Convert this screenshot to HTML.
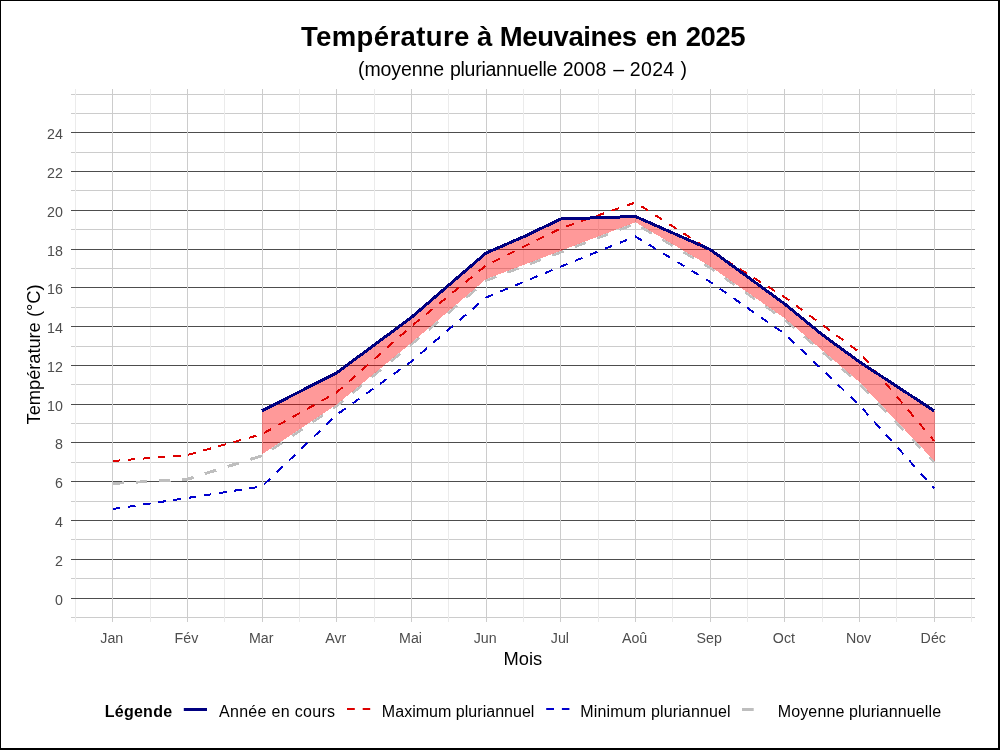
<!DOCTYPE html>
<html lang="fr">
<head>
<meta charset="utf-8">
<title>Température à Meuvaines en 2025</title>
<style>
html, body { margin: 0; padding: 0; background: #ffffff; }
body { width: 1000px; height: 750px; overflow: hidden; font-family: "Liberation Sans", sans-serif; }
svg { display: block; will-change: transform; }
svg text { font-family: "Liberation Sans", sans-serif; }
.tick text { fill: #4d4d4d; }
</style>
</head>
<body>
<svg width="1000" height="750" viewBox="0 0 1000 750">
<defs>
<clipPath id="leftOfMar"><rect x="0" y="0" width="262.04" height="750"/></clipPath>
<clipPath id="belowRibbon"><path d="M262.04,454.49 L336.72,404.58 L411.40,342.84 L486.08,279.15 L560.76,250.80 L635.44,222.26 L710.12,266.33 L784.80,318.37 L859.48,382.06 L934.16,460.70 L935.06,460.70 L935.06,0.00 L1000.00,0.00 L1000.00,750.00 L262.04,750.00 Z"/></clipPath>
</defs>
<!-- background + outer border -->
<rect x="0" y="0" width="1000" height="750" fill="#ffffff"/>
<rect x="0" y="0" width="1000" height="1" fill="#000000"/>
<rect x="0" y="0" width="1" height="750" fill="#000000"/>
<rect x="998" y="0" width="2" height="750" fill="#000000"/>
<rect x="0" y="748" width="1000" height="2" fill="#000000"/>

<!-- titles, axis titles, legend labels -->
<text x="300.98" y="45.7" font-size="27.5" font-weight="bold" letter-spacing="0.375" fill="#000000">Température</text>
<text x="476.93" y="45.7" font-size="27.5" font-weight="bold" letter-spacing="0.000" fill="#000000">à</text>
<text x="499.78" y="45.7" font-size="27.5" font-weight="bold" letter-spacing="-0.403" fill="#000000">Meuvaines</text>
<text x="645.63" y="45.7" font-size="27.5" font-weight="bold" letter-spacing="-0.109" fill="#000000">en</text>
<text x="685.66" y="45.7" font-size="27.5" font-weight="bold" letter-spacing="-0.418" fill="#000000">2025</text>
<text x="357.98" y="76.2" font-size="19.5" letter-spacing="-0.072" fill="#000000">(moyenne</text>
<text x="449.92" y="76.2" font-size="19.5" letter-spacing="-0.254" fill="#000000">pluriannuelle</text>
<text x="562.63" y="76.2" font-size="19.5" letter-spacing="0.084" fill="#000000">2008</text>
<text x="613.19" y="76.2" font-size="19.5" letter-spacing="0.000" fill="#000000">–</text>
<text x="629.74" y="76.2" font-size="19.5" letter-spacing="0.361" fill="#000000">2024</text>
<text x="680.55" y="76.2" font-size="19.5" letter-spacing="0.000" fill="#000000">)</text>
<text x="503.49" y="664.8" font-size="18.33" letter-spacing="0.016" fill="#000000">Mois</text>
<text x="104.69" y="717" font-size="16" font-weight="bold" letter-spacing="0.265" fill="#000000">Légende</text>
<text x="218.96" y="717" font-size="16" letter-spacing="0.310" fill="#000000">Année en cours</text>
<text x="381.86" y="717" font-size="16" letter-spacing="0.027" fill="#000000">Maximum pluriannuel</text>
<text x="580.36" y="717" font-size="16" letter-spacing="0.149" fill="#000000">Minimum pluriannuel</text>
<text x="777.80" y="717" font-size="16" letter-spacing="0.114" fill="#000000">Moyenne pluriannuelle</text>
<g transform="translate(40.0,424.4) rotate(-90)">
<text x="0.00" y="0" font-size="18.33" letter-spacing="-0.070" fill="#000000">Température</text>
<text x="107.40" y="0" font-size="18.33" letter-spacing="-0.090" fill="#000000">(°C)</text>
</g>

<!-- grid -->
<g shape-rendering="crispEdges">
<rect x="71" y="617" width="904" height="1" fill="#cccccc"/>
<rect x="71" y="578" width="904" height="1" fill="#cccccc"/>
<rect x="71" y="539" width="904" height="1" fill="#cccccc"/>
<rect x="71" y="501" width="904" height="1" fill="#cccccc"/>
<rect x="71" y="462" width="904" height="1" fill="#cccccc"/>
<rect x="71" y="423" width="904" height="1" fill="#cccccc"/>
<rect x="71" y="384" width="904" height="1" fill="#cccccc"/>
<rect x="71" y="346" width="904" height="1" fill="#cccccc"/>
<rect x="71" y="307" width="904" height="1" fill="#cccccc"/>
<rect x="71" y="268" width="904" height="1" fill="#cccccc"/>
<rect x="71" y="229" width="904" height="1" fill="#cccccc"/>
<rect x="71" y="190" width="904" height="1" fill="#cccccc"/>
<rect x="71" y="152" width="904" height="1" fill="#cccccc"/>
<rect x="71" y="113" width="904" height="1" fill="#cccccc"/>
<rect x="71" y="94" width="904" height="1" fill="#cccccc"/>
<rect x="75" y="89" width="1" height="533" fill="#ebebeb"/>
<rect x="150" y="89" width="1" height="533" fill="#ebebeb"/>
<rect x="224" y="89" width="1" height="533" fill="#ebebeb"/>
<rect x="299" y="89" width="1" height="533" fill="#ebebeb"/>
<rect x="374" y="89" width="1" height="533" fill="#ebebeb"/>
<rect x="448" y="89" width="1" height="533" fill="#ebebeb"/>
<rect x="523" y="89" width="1" height="533" fill="#ebebeb"/>
<rect x="598" y="89" width="1" height="533" fill="#ebebeb"/>
<rect x="672" y="89" width="1" height="533" fill="#ebebeb"/>
<rect x="747" y="89" width="1" height="533" fill="#ebebeb"/>
<rect x="822" y="89" width="1" height="533" fill="#ebebeb"/>
<rect x="896" y="89" width="1" height="533" fill="#ebebeb"/>
<rect x="971" y="89" width="1" height="533" fill="#ebebeb"/>
<rect x="71" y="598" width="904" height="1" fill="#4d4d4d"/>
<rect x="71" y="559" width="904" height="1" fill="#4d4d4d"/>
<rect x="71" y="520" width="904" height="1" fill="#4d4d4d"/>
<rect x="71" y="481" width="904" height="1" fill="#4d4d4d"/>
<rect x="71" y="442" width="904" height="1" fill="#4d4d4d"/>
<rect x="71" y="404" width="904" height="1" fill="#4d4d4d"/>
<rect x="71" y="365" width="904" height="1" fill="#4d4d4d"/>
<rect x="71" y="326" width="904" height="1" fill="#4d4d4d"/>
<rect x="71" y="287" width="904" height="1" fill="#4d4d4d"/>
<rect x="71" y="249" width="904" height="1" fill="#4d4d4d"/>
<rect x="71" y="210" width="904" height="1" fill="#4d4d4d"/>
<rect x="71" y="171" width="904" height="1" fill="#4d4d4d"/>
<rect x="71" y="132" width="904" height="1" fill="#4d4d4d"/>
<rect x="112" y="89" width="1" height="533" fill="#cccccc"/>
<rect x="187" y="89" width="1" height="533" fill="#cccccc"/>
<rect x="262" y="89" width="1" height="533" fill="#cccccc"/>
<rect x="336" y="89" width="1" height="533" fill="#cccccc"/>
<rect x="411" y="89" width="1" height="533" fill="#cccccc"/>
<rect x="486" y="89" width="1" height="533" fill="#cccccc"/>
<rect x="560" y="89" width="1" height="533" fill="#cccccc"/>
<rect x="635" y="89" width="1" height="533" fill="#cccccc"/>
<rect x="710" y="89" width="1" height="533" fill="#cccccc"/>
<rect x="784" y="89" width="1" height="533" fill="#cccccc"/>
<rect x="859" y="89" width="1" height="533" fill="#cccccc"/>
<rect x="934" y="89" width="1" height="533" fill="#cccccc"/>
</g>

<!-- data -->
<g fill="none" stroke-linejoin="round" shape-rendering="crispEdges">
<path d="M112.68,483.49 L124.24,482.84 M135.80,482.19 L147.36,481.54 M158.92,480.89 L170.48,480.24 M182.03,479.60 L187.36,479.30 L193.49,477.36 M204.85,473.77 L216.21,470.17 M227.57,466.58 L238.93,462.99 M250.30,459.40 L261.66,455.81 M271.90,449.10 L282.10,442.28 M292.29,435.47 L302.49,428.65 M312.69,421.84 L322.89,415.02 M333.09,408.21 L336.72,405.78 L342.87,400.70 M352.41,392.81 L361.95,384.92 M371.49,377.04 L381.03,369.15 M390.57,361.26 L400.11,353.37 M409.65,345.48 L411.40,344.04 L419.10,337.47 M428.53,329.43 L437.97,321.38 M447.40,313.34 L456.83,305.30 M466.26,297.25 L475.69,289.21 M485.12,281.17 L486.08,280.35 L496.15,276.53 M507.36,272.27 L518.57,268.02 M529.78,263.76 L540.99,259.51 M552.20,255.25 L560.76,252.00 L563.41,250.99 M574.61,246.71 L585.81,242.43 M597.01,238.14 L608.22,233.86 M619.42,229.58 L630.62,225.30 M641.43,226.99 L651.93,233.19 M662.44,239.39 L672.95,245.60 M683.46,251.80 L693.97,258.00 M704.47,264.20 L710.12,267.53 L714.78,270.78 M724.87,277.81 L734.95,284.84 M745.03,291.86 L755.11,298.89 M765.20,305.91 L775.28,312.94 M785.33,320.02 L794.76,328.06 M804.19,336.11 L813.62,344.15 M823.05,352.19 L832.48,360.24 M841.92,368.28 L851.35,376.32 M860.67,384.51 L869.27,393.57 M877.88,402.64 L886.49,411.70 M895.10,420.77 L903.71,429.83 M912.31,438.89 L920.92,447.96 M929.53,457.02 L934.16,461.90" stroke="#bebebe" stroke-width="2.9" clip-path="url(#leftOfMar)"/>
<path d="M112.68,483.49 L124.24,482.84 M135.80,482.19 L147.36,481.54 M158.92,480.89 L170.48,480.24 M182.03,479.60 L187.36,479.30 L193.49,477.36 M204.85,473.77 L216.21,470.17 M227.57,466.58 L238.93,462.99 M250.30,459.40 L261.66,455.81 M271.90,449.10 L282.10,442.28 M292.29,435.47 L302.49,428.65 M312.69,421.84 L322.89,415.02 M333.09,408.21 L336.72,405.78 L342.87,400.70 M352.41,392.81 L361.95,384.92 M371.49,377.04 L381.03,369.15 M390.57,361.26 L400.11,353.37 M409.65,345.48 L411.40,344.04 L419.10,337.47 M428.53,329.43 L437.97,321.38 M447.40,313.34 L456.83,305.30 M466.26,297.25 L475.69,289.21 M485.12,281.17 L486.08,280.35 L496.15,276.53 M507.36,272.27 L518.57,268.02 M529.78,263.76 L540.99,259.51 M552.20,255.25 L560.76,252.00 L563.41,250.99 M574.61,246.71 L585.81,242.43 M597.01,238.14 L608.22,233.86 M619.42,229.58 L630.62,225.30 M641.43,226.99 L651.93,233.19 M662.44,239.39 L672.95,245.60 M683.46,251.80 L693.97,258.00 M704.47,264.20 L710.12,267.53 L714.78,270.78 M724.87,277.81 L734.95,284.84 M745.03,291.86 L755.11,298.89 M765.20,305.91 L775.28,312.94 M785.33,320.02 L794.76,328.06 M804.19,336.11 L813.62,344.15 M823.05,352.19 L832.48,360.24 M841.92,368.28 L851.35,376.32 M860.67,384.51 L869.27,393.57 M877.88,402.64 L886.49,411.70 M895.10,420.77 L903.71,429.83 M912.31,438.89 L920.92,447.96 M929.53,457.02 L934.16,461.90" stroke="#bebebe" stroke-width="3.1" clip-path="url(#belowRibbon)"/>
<path d="M262.04,410.83 L336.72,372.77 L411.40,317.44 L486.08,252.97 L523.42,236.86 L560.76,218.99 L635.44,216.47 L710.12,249.48 L784.80,304.04 L822.14,334.62 L859.48,361.90 L934.16,410.83 L935.06,410.83 L935.06,460.70 L934.16,460.70 L859.48,382.06 L784.80,318.37 L710.12,266.33 L635.44,222.26 L560.76,250.80 L486.08,279.15 L411.40,342.84 L336.72,404.58 L262.04,454.49 Z" fill="#ff0000" fill-opacity="0.4" stroke="none"/>
<path d="M112.68,461.01 L120.22,460.40 M127.75,459.79 L135.29,459.19 M142.83,458.58 L150.37,457.98 M157.90,457.37 L165.44,456.77 M172.98,456.16 L180.52,455.56 M188.06,454.81 L195.65,452.69 M203.25,450.56 L210.84,448.44 M218.43,446.32 L226.03,444.20 M233.62,442.08 L241.22,439.95 M248.81,437.83 L256.40,435.71 M263.90,433.09 L271.11,429.06 M278.31,425.03 L285.52,421.01 M292.73,416.98 L299.94,412.95 M307.15,408.92 L314.36,404.89 M321.56,400.86 L328.77,396.83 M335.98,392.80 L336.72,392.39 L342.47,387.29 M348.87,381.61 L355.27,375.93 M361.68,370.26 L368.08,364.58 M374.49,358.90 L380.89,353.23 M387.29,347.55 L393.70,341.87 M400.10,336.19 L406.50,330.52 M412.95,324.91 L419.55,319.54 M426.14,314.18 L432.74,308.81 M439.33,303.44 L445.93,298.08 M452.52,292.71 L459.12,287.34 M465.71,281.97 L472.31,276.61 M478.90,271.24 L485.50,265.87 M492.76,262.08 L500.09,258.44 M507.42,254.80 L514.75,251.16 M522.08,247.52 L529.41,243.88 M536.74,240.24 L544.08,236.60 M551.41,232.96 L558.74,229.32 M566.22,226.42 L573.77,223.81 M581.31,221.21 L588.86,218.60 M596.40,215.99 L603.95,213.38 M611.49,210.77 L619.04,208.16 M626.58,205.55 L634.12,202.94 M641.24,206.21 L648.26,210.72 M655.29,215.23 L662.31,219.74 M669.34,224.26 L676.36,228.77 M683.38,233.28 L690.41,237.79 M697.43,242.30 L704.46,246.81 M711.49,251.30 L718.55,255.73 M725.61,260.15 L732.67,264.58 M739.73,269.00 L746.79,273.42 M753.85,277.85 L760.91,282.27 M767.97,286.70 L775.03,291.12 M782.09,295.54 L784.80,297.24 L788.99,300.32 M795.78,305.32 L802.58,310.32 M809.37,315.32 L816.17,320.32 M822.97,325.32 L829.76,330.33 M836.56,335.33 L843.35,340.33 M850.15,345.33 L856.94,350.33 M863.00,356.38 L868.63,363.06 M874.25,369.74 L879.87,376.42 M885.49,383.10 L891.12,389.78 M896.74,396.46 L902.36,403.14 M907.98,409.82 L913.61,416.50 M919.23,423.19 L924.85,429.87 M930.47,436.55 L934.16,440.93" stroke="#dd0000" stroke-width="2"/>
<path d="M112.68,509.00 L120.27,507.88 M127.86,506.77 L135.46,505.65 M143.05,504.53 L150.64,503.41 M158.23,502.29 L165.82,501.17 M173.42,500.05 L181.01,498.93 M188.60,497.80 L196.20,496.62 M203.79,495.44 L211.39,494.25 M218.99,493.07 L226.58,491.89 M234.18,490.70 L241.77,489.52 M249.37,488.34 L256.97,487.15 M264.10,484.38 L270.31,478.43 M276.53,472.47 L282.74,466.51 M288.95,460.55 L295.16,454.59 M301.37,448.63 L307.58,442.67 M313.79,436.71 L320.00,430.75 M326.21,424.80 L332.42,418.84 M338.83,413.21 L345.69,408.33 M352.54,403.44 L359.40,398.56 M366.25,393.68 L373.11,388.79 M379.96,383.91 L386.81,379.03 M393.67,374.14 L400.52,369.26 M407.38,364.38 L411.40,361.51 L414.08,359.22 M420.56,353.66 L427.03,348.10 M433.51,342.54 L439.99,336.98 M446.47,331.42 L452.95,325.86 M459.43,320.30 L465.91,314.74 M472.39,309.18 L478.87,303.63 M485.35,298.07 L486.08,297.44 L492.70,294.70 M500.16,291.61 L507.63,288.53 M515.09,285.44 L522.56,282.36 M530.02,279.27 L537.49,276.18 M544.95,273.10 L552.42,270.01 M559.88,266.93 L560.76,266.56 L567.36,263.90 M574.84,260.89 L582.32,257.88 M589.80,254.86 L597.27,251.85 M604.75,248.83 L612.23,245.82 M619.71,242.81 L627.19,239.79 M634.67,236.78 L635.44,236.47 L641.81,240.34 M648.91,244.66 L656.01,248.98 M663.11,253.30 L670.21,257.62 M677.32,261.95 L684.42,266.27 M691.52,270.59 L698.62,274.91 M705.72,279.23 L710.12,281.90 L712.74,283.73 M719.64,288.53 L726.53,293.34 M733.42,298.14 L740.32,302.94 M747.21,307.75 L754.10,312.55 M761.00,317.35 L767.89,322.16 M774.78,326.96 L781.67,331.76 M788.20,337.19 L794.43,343.13 M800.65,349.07 L806.88,355.01 M813.10,360.95 L819.33,366.89 M825.55,372.83 L831.78,378.76 M838.00,384.70 L844.22,390.64 M850.45,396.58 L856.67,402.52 M862.67,408.75 L868.48,415.22 M874.30,421.69 L880.11,428.16 M885.92,434.62 L891.73,441.09 M897.54,447.56 L903.36,454.03 M909.17,460.49 L914.98,466.96 M920.79,473.43 L926.60,479.90 M932.42,486.36 L934.16,488.31" stroke="#0000cd" stroke-width="2"/>
<path d="M262.04,410.83 L336.72,372.77 L411.40,317.44 L486.08,252.97 L523.42,236.86 L560.76,218.99 L635.44,216.47 L710.12,249.48 L784.80,304.04 L822.14,334.62 L859.48,361.90 L934.16,410.83" stroke="#000080" stroke-width="3"/>
</g>

<!-- tick labels -->
<g class="tick">
<text transform="translate(111.78,642.8) scale(0.97,1)" font-size="14.67" text-anchor="middle">Jan</text>
<text transform="translate(186.46,642.8) scale(0.97,1)" font-size="14.67" text-anchor="middle">Fév</text>
<text transform="translate(261.14,642.8) scale(0.97,1)" font-size="14.67" text-anchor="middle">Mar</text>
<text transform="translate(335.82,642.8) scale(0.97,1)" font-size="14.67" text-anchor="middle">Avr</text>
<text transform="translate(410.50,642.8) scale(0.97,1)" font-size="14.67" text-anchor="middle">Mai</text>
<text transform="translate(485.18,642.8) scale(0.97,1)" font-size="14.67" text-anchor="middle">Jun</text>
<text transform="translate(559.86,642.8) scale(0.97,1)" font-size="14.67" text-anchor="middle">Jul</text>
<text transform="translate(634.54,642.8) scale(0.97,1)" font-size="14.67" text-anchor="middle">Aoû</text>
<text transform="translate(709.22,642.8) scale(0.97,1)" font-size="14.67" text-anchor="middle">Sep</text>
<text transform="translate(783.90,642.8) scale(0.97,1)" font-size="14.67" text-anchor="middle">Oct</text>
<text transform="translate(858.58,642.8) scale(0.97,1)" font-size="14.67" text-anchor="middle">Nov</text>
<text transform="translate(933.26,642.8) scale(0.97,1)" font-size="14.67" text-anchor="middle">Déc</text>
<text transform="translate(62.9,604.80) scale(0.95,1)" font-size="15" text-anchor="end">0</text>
<text transform="translate(62.9,565.80) scale(0.95,1)" font-size="15" text-anchor="end">2</text>
<text transform="translate(62.9,526.80) scale(0.95,1)" font-size="15" text-anchor="end">4</text>
<text transform="translate(62.9,487.80) scale(0.95,1)" font-size="15" text-anchor="end">6</text>
<text transform="translate(62.9,448.80) scale(0.95,1)" font-size="15" text-anchor="end">8</text>
<text transform="translate(62.9,410.80) scale(0.95,1)" font-size="15" text-anchor="end">10</text>
<text transform="translate(62.9,371.80) scale(0.95,1)" font-size="15" text-anchor="end">12</text>
<text transform="translate(62.9,332.80) scale(0.95,1)" font-size="15" text-anchor="end">14</text>
<text transform="translate(62.9,293.80) scale(0.95,1)" font-size="15" text-anchor="end">16</text>
<text transform="translate(62.9,255.80) scale(0.95,1)" font-size="15" text-anchor="end">18</text>
<text transform="translate(62.9,216.80) scale(0.95,1)" font-size="15" text-anchor="end">20</text>
<text transform="translate(62.9,177.80) scale(0.95,1)" font-size="15" text-anchor="end">22</text>
<text transform="translate(62.9,138.80) scale(0.95,1)" font-size="15" text-anchor="end">24</text>
</g>

<!-- legend -->
<g class="leg">
<rect x="183.8" y="708" width="23.2" height="3" fill="#000080"/>
<rect x="347" y="708" width="7.8" height="2" fill="#dd0000"/><rect x="362.7" y="708" width="7.5" height="2" fill="#dd0000"/>
<rect x="546.2" y="708" width="7.8" height="2" fill="#0000cd"/><rect x="561.9" y="708" width="7.5" height="2" fill="#0000cd"/>
<rect x="742" y="708" width="11.7" height="3" fill="#bebebe"/>
</g>
</svg>
</body>
</html>
